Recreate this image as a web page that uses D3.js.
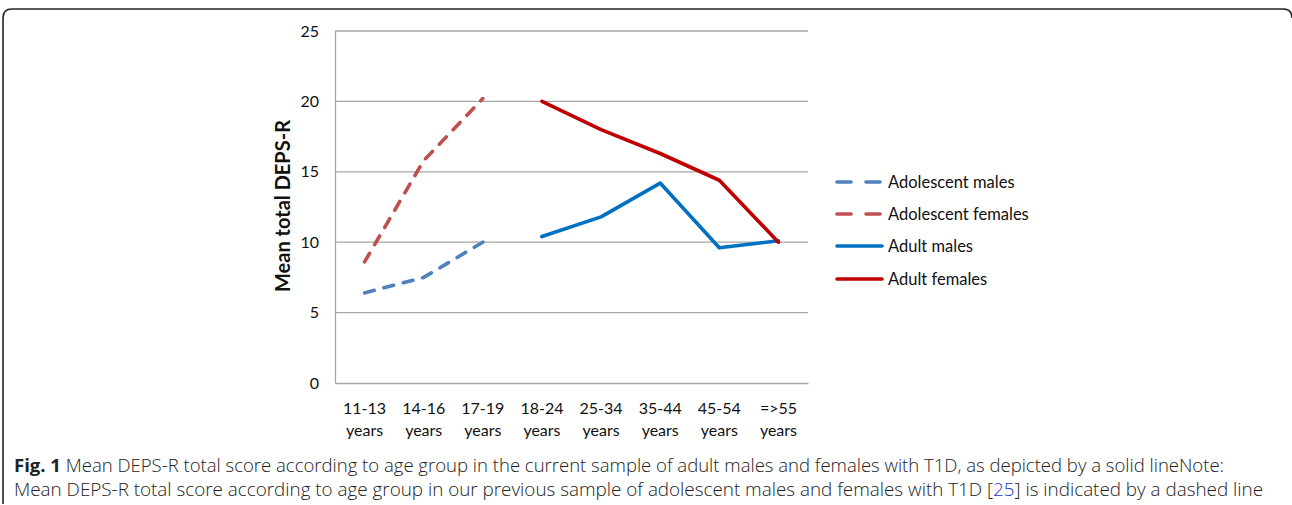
<!DOCTYPE html>
<html><head><meta charset="utf-8">
<script src="https://cdn.jsdelivr.net/npm/d3@7"></script>
<style>
html,body{margin:0;padding:0;background:#fff;}
svg{display:block;}
</style></head>
<body>
<svg id="chart" width="1292" height="505"></svg>
<script>
const categories = ["11-13 years","14-16 years","17-19 years","18-24 years","25-34 years","35-44 years","45-54 years","=>55 years"];
const adolescentMales   = [6.4, 7.5, 10.0, null, null, null, null, null];
const adolescentFemales = [8.6, 15.8, 20.2, null, null, null, null, null];
const adultMales        = [null, null, null, 10.4, 11.8, 14.2, 9.6, 10.1];
const adultFemales      = [null, null, null, 20.0, 18.0, 16.3, 14.4, 10.0];
const yTicks = [0, 5, 10, 15, 20, 25];
const seriesNames = ["Adolescent males","Adolescent females","Adult males","Adult females"];
const seriesColors = ["#4F81BD","#C0504D","#0070C0","#C00000"];
const seriesDashed = [true, true, false, false];
const seriesValues = [adolescentMales, adolescentFemales, adultMales, adultFemales];

const svg = d3.select("#chart");
const font = "Lato, 'Liberation Sans', sans-serif";

// frame
svg.append("path")
  .attr("d", "M3,504 L3,18 Q3,9 12,9 L1283,9 Q1292,9 1292,18")
  .attr("fill","none").attr("stroke","#222").attr("stroke-width",1.6);

const x = d3.scaleBand().domain(categories).range([335, 808]);
const y = d3.scaleLinear().domain([0, 25]).range([383, 31]);

// gridlines
svg.append("g").selectAll("line").data(yTicks.filter(d => d > 0)).join("line")
  .attr("x1", 335).attr("x2", 808)
  .attr("y1", d => y(d)).attr("y2", d => y(d))
  .attr("stroke", "#a6a6a6").attr("stroke-width", 1.3);

// axes
const yAxis = svg.append("g").attr("transform","translate(335,0)")
  .call(d3.axisLeft(y).tickValues(yTicks).tickSize(0).tickPadding(16));
yAxis.select(".domain").attr("stroke","#a6a6a6").attr("stroke-width",1.3);
yAxis.selectAll("text").attr("font-family",font).attr("font-size",16).attr("fill","#111");

const xAxis = svg.append("g").attr("transform","translate(0,383)")
  .call(d3.axisBottom(x).tickSize(0).tickFormat(""));
xAxis.select(".domain").attr("stroke","#a6a6a6").attr("stroke-width",1.3);
xAxis.selectAll(".tick").each(function(d){
  const parts = d.split(" ");
  const t = d3.select(this).append("text")
    .attr("font-family",font).attr("font-size",16).attr("fill","#111")
    .attr("text-anchor","middle");
  t.append("tspan").attr("x",0).attr("y",31).text(parts[0]);
  t.append("tspan").attr("x",0).attr("y",53).text(parts[1]);
});

// y label
svg.append("text")
  .attr("transform","translate(290,206) rotate(-90)")
  .attr("text-anchor","middle")
  .attr("font-family",font).attr("font-weight","bold").attr("font-size",20)
  .attr("fill","#111")
  .text("Mean total DEPS-R");

// lines
const line = d3.line()
  .defined(d => d != null)
  .x((d,i) => x(categories[i]) + x.bandwidth()/2)
  .y(d => y(d));
seriesValues.forEach((vals, k) => {
  svg.append("path")
    .attr("d", line(vals))
    .attr("fill","none")
    .attr("stroke", seriesColors[k])
    .attr("stroke-width", 3.6)
    .attr("stroke-linecap","round")
    .attr("stroke-linejoin","round")
    .attr("stroke-dasharray", seriesDashed[k] ? "10,10" : null);
});

// legend
const legRows = [182, 214, 246, 279];
seriesNames.forEach((name, k) => {
  const g = svg.append("g").attr("transform", `translate(0,${legRows[k]})`);
  if (seriesDashed[k]) {
    g.append("line").attr("x1",837).attr("x2",851).attr("y1",0).attr("y2",0)
      .attr("stroke",seriesColors[k]).attr("stroke-width",3.6).attr("stroke-linecap","round");
    g.append("line").attr("x1",866).attr("x2",880).attr("y1",0).attr("y2",0)
      .attr("stroke",seriesColors[k]).attr("stroke-width",3.6).attr("stroke-linecap","round");
  } else {
    g.append("line").attr("x1",837).attr("x2",882).attr("y1",0).attr("y2",0)
      .attr("stroke",seriesColors[k]).attr("stroke-width",3.6).attr("stroke-linecap","round");
  }
  g.append("text").attr("x",888).attr("y",0).attr("dy","0.35em")
    .attr("font-family",font).attr("font-size",16.5).attr("fill","#111")
    .text(name);
});

// caption
const capFont = "'Open Sans', 'Noto Sans', sans-serif";
const c1 = svg.append("text").attr("x",14).attr("y",472)
  .attr("font-family",capFont).attr("font-size",17.5).attr("fill","#222")
  .attr("textLength", 1210).attr("lengthAdjust","spacingAndGlyphs");
c1.append("tspan").attr("font-weight","bold").text("Fig. 1");
c1.append("tspan").attr("font-weight","300").text(" Mean DEPS-R total score according to age group in the current sample of adult males and females with T1D, as depicted by a solid lineNote:");
const c2 = svg.append("text").attr("x",14).attr("y",496)
  .attr("font-family",capFont).attr("font-size",17.5).attr("fill","#222").attr("font-weight","300")
  .attr("textLength", 1249).attr("lengthAdjust","spacingAndGlyphs");
c2.append("tspan").text("Mean DEPS-R total score according to age group in our previous sample of adolescent males and females with T1D [");
c2.append("tspan").attr("fill","#1a35d6").text("25");
c2.append("tspan").text("] is indicated by a dashed line");
</script>
</body></html>
